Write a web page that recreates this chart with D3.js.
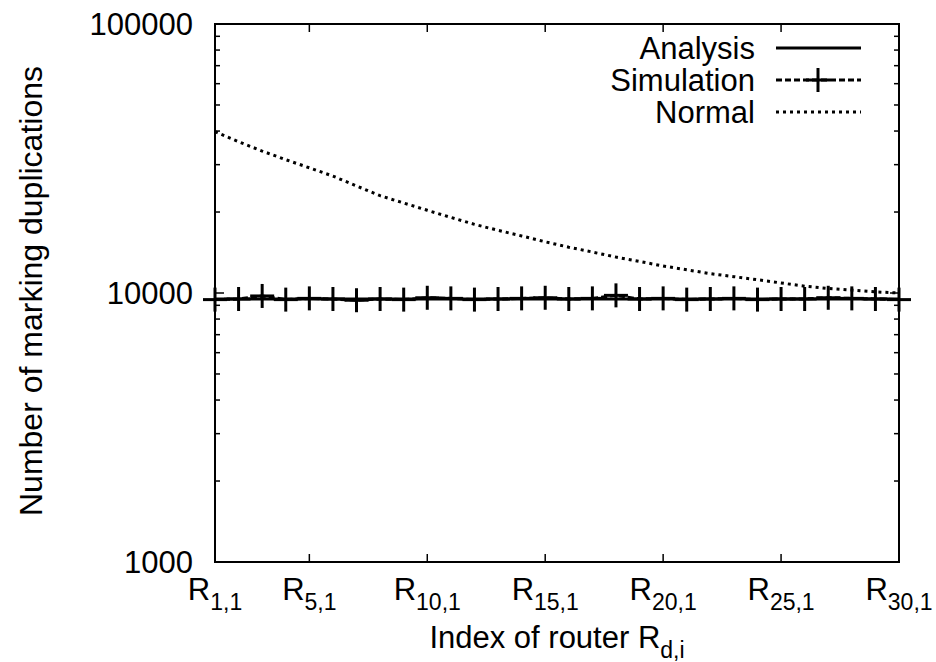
<!DOCTYPE html>
<html>
<head>
<meta charset="utf-8">
<script src="https://cdn.jsdelivr.net/npm/d3@7"></script>
<style>
  body { margin: 0; background: #fff; }
  text { font-family: "Liberation Sans", Arial, sans-serif; fill: #000; }
</style>
</head>
<body>
<div id="chart"></div>
<script>
// router index d (R_{d,1}), 1..30
const routers = d3.range(1, 31);
const xTickValues = [1, 5, 10, 15, 20, 25, 30];
const yTickValues = [1000, 10000, 100000];

// values
const analysis = [9500, 9500, 9500, 9500, 9500, 9500, 9500, 9500, 9500, 9500,
                  9500, 9500, 9500, 9500, 9500, 9500, 9500, 9500, 9500, 9500,
                  9500, 9500, 9500, 9500, 9500, 9500, 9500, 9500, 9500, 9500];
const simulation = [9450, 9500, 9750, 9450, 9550, 9500, 9400, 9500, 9450, 9600,
                    9550, 9450, 9500, 9550, 9600, 9500, 9550, 9800, 9500, 9550,
                    9450, 9500, 9550, 9450, 9500, 9500, 9600, 9550, 9500, 9450];
const normal = [39800, 36500, 33700, 31300, 29200, 27200, 25000, 23000, 21600, 20300,
                19100, 18000, 17100, 16300, 15500, 14800, 14200, 13600, 13100, 12600,
                12200, 11800, 11500, 11200, 10900, 10600, 10400, 10250, 10100, 10000];

const width = 936, height = 662;
const margin = {left: 215, right: 37, top: 24, bottom: 100};
const fontSize = 31, subSize = 23;

const svg = d3.select("#chart").append("svg")
    .attr("width", width)
    .attr("height", height);

const x = d3.scaleLinear().domain([1, 30]).range([margin.left, width - margin.right]);
const y = d3.scaleLog().domain([1000, 100000]).range([height - margin.bottom, margin.top]);

const x0 = x.range()[0], x1 = x.range()[1];
const y0 = y.range()[0], y1 = y.range()[1];

// ticks (inside, mirrored)
const tickG = svg.append("g").attr("stroke", "#000").attr("stroke-width", 1.5);
xTickValues.filter(d => d !== 1 && d !== 30).forEach(d => {
    tickG.append("line").attr("x1", x(d)).attr("x2", x(d)).attr("y1", y0).attr("y2", y0 - 8);
    tickG.append("line").attr("x1", x(d)).attr("x2", x(d)).attr("y1", y1).attr("y2", y1 + 8);
});
// log minor ticks
const minor = [];
[1000, 10000].forEach(base => { for (let k = 2; k <= 9; k++) minor.push(base * k); });
minor.forEach(v => {
    tickG.append("line").attr("x1", x0).attr("x2", x0 + 5).attr("y1", y(v)).attr("y2", y(v));
    tickG.append("line").attr("x1", x1).attr("x2", x1 - 5).attr("y1", y(v)).attr("y2", y(v));
});
yTickValues.forEach(v => {
    tickG.append("line").attr("x1", x0).attr("x2", x0 + 9).attr("y1", y(v)).attr("y2", y(v));
    tickG.append("line").attr("x1", x1).attr("x2", x1 - 9).attr("y1", y(v)).attr("y2", y(v));
});

// frame
svg.append("rect")
    .attr("x", x0).attr("y", y1)
    .attr("width", x1 - x0).attr("height", y0 - y1)
    .attr("fill", "none").attr("stroke", "#000").attr("stroke-width", 2);

// y tick labels
svg.append("g").selectAll("text").data(yTickValues).join("text")
    .attr("x", x0 - 22)
    .attr("y", d => y(d))
    .attr("dy", "0.35em")
    .attr("text-anchor", "end")
    .attr("font-size", fontSize)
    .text(d => d);

// x tick labels R_{d,1}
const xl = svg.append("g").selectAll("text").data(xTickValues).join("text")
    .attr("x", d => x(d))
    .attr("y", 600)
    .attr("text-anchor", "middle")
    .attr("font-size", fontSize);
xl.append("tspan").text("R");
xl.append("tspan").attr("font-size", subSize).attr("dy", 10).text(d => d + ",1");

// axis titles
const xt = svg.append("text")
    .attr("x", (x0 + x1) / 2)
    .attr("y", 648)
    .attr("text-anchor", "middle")
    .attr("font-size", fontSize);
xt.append("tspan").text("Index of router R");
xt.append("tspan").attr("font-size", subSize).attr("dy", 10).text("d,i");

svg.append("text")
    .attr("transform", `translate(42,291) rotate(-90)`)
    .attr("text-anchor", "middle")
    .attr("font-size", 32)
    .text("Number of marking duplications");

// series
const line = d3.line().x((d, i) => x(routers[i])).y(d => y(d));

svg.append("path").datum(normal)
    .attr("d", line).attr("fill", "none")
    .attr("stroke", "#000").attr("stroke-width", 3)
    .attr("stroke-dasharray", "3,4");

svg.append("path").datum(simulation)
    .attr("d", line).attr("fill", "none")
    .attr("stroke", "#000").attr("stroke-width", 3)
    .attr("stroke-dasharray", "6,3");

svg.append("path").datum(analysis)
    .attr("d", line).attr("fill", "none")
    .attr("stroke", "#000").attr("stroke-width", 3);

function plus(g, cx, cy) {
    g.append("line").attr("x1", cx - 12).attr("x2", cx + 12).attr("y1", cy).attr("y2", cy);
    g.append("line").attr("x1", cx).attr("x2", cx).attr("y1", cy - 12).attr("y2", cy + 12);
}
const markers = svg.append("g").attr("stroke", "#000").attr("stroke-width", 3);
simulation.forEach((v, i) => plus(markers, x(routers[i]), y(v)));

// legend
const legend = [
    {name: "Analysis", dash: null, marker: false},
    {name: "Simulation", dash: "6,3", marker: true},
    {name: "Normal", dash: "3,4", marker: false}
];
const lg = svg.append("g");
legend.forEach((d, i) => {
    const cy = 48 + i * 32;
    lg.append("text").attr("x", 755).attr("y", cy).attr("dy", "0.35em")
        .attr("text-anchor", "end").attr("font-size", fontSize).text(d.name);
    lg.append("line").attr("x1", 776).attr("x2", 861).attr("y1", cy).attr("y2", cy)
        .attr("stroke", "#000").attr("stroke-width", 3)
        .attr("stroke-dasharray", d.dash);
    if (d.marker) plus(lg.append("g").attr("stroke", "#000").attr("stroke-width", 3), 818, cy);
});
</script>
</body>
</html>
